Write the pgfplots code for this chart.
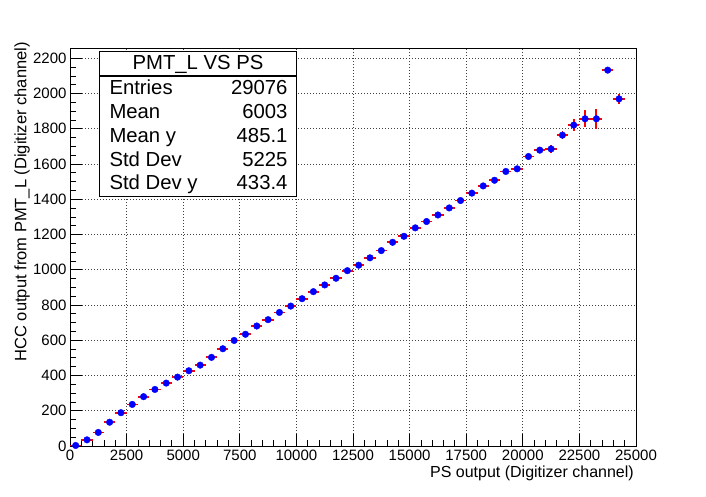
\documentclass[border=0pt]{standalone}
\usepackage{pgfplots}
\usepackage{pgfplotstable}
\pgfplotsset{compat=1.18}
\usepackage{fontspec}
\setmainfont{Liberation Sans}
\pgfplotstableread{
x ex y ey
250 250 3 2
750 250 35 2
1250 250 77 2
1750 250 135 2
2250 250 189 2
2750 250 236 2
3250 250 280 2
3750 250 321 2
4250 250 357 2
4750 250 391 2
5250 250 427 2
5750 250 459 2
6250 250 503 2
6750 250 552 2
7250 250 599 2
7750 250 634 2
8250 250 681 2
8750 250 717 2
9250 250 758 2
9750 250 794 2
10250 250 836 2
10750 250 876 2
11250 250 914 2
11750 250 952 2
12250 250 995 2
12750 250 1026 2
13250 250 1068 2
13750 250 1109 2
14250 250 1156 3
14750 250 1190 3
15250 250 1238 3
15750 250 1274 3
16250 250 1311 3
16750 250 1351 3
17250 250 1393 3
17750 250 1435 3
18250 250 1476 4
18750 250 1508 4
19250 250 1558 5
19750 250 1573 5
20250 250 1643 6
20750 250 1679 8
21250 250 1686 21
21750 250 1764 22
22250 250 1821 36
22750 250 1857 48
23250 250 1857 57
23750 250 2133 8
24250 250 1970 30
}\datatab
\begin{document}
\begin{tikzpicture}[x=1pt,y=1pt]
\path[use as bounding box] (0,0) rectangle (706,496);
\begin{axis}[
  at={(70pt,50pt)}, anchor=south west, scale only axis,
  width=566pt, height=397pt,
  xmin=0, xmax=25000, ymin=0, ymax=2253,
  xtick={0,2500,...,25000}, ytick={0,200,...,2200},
  minor x tick num=4, minor y tick num=3,
  xtick pos=left, ytick pos=left, tick align=inside,
  major tick length=12pt, minor tick length=6pt,
  grid=major,
  major grid style={black!75, dash pattern=on 1pt off 2pt, line width=0.8pt},
  axis line style={line width=1pt},
  tick style={black, line width=0.8pt},
  ticklabel style={font=\fontsize{15}{18}\selectfont},
  /pgf/number format/assume math mode=true,
  /pgf/number format/set thousands separator={},
  scaled ticks=false,
]
\addplot[only marks, mark=none,
  error bars/.cd, x dir=both, x explicit, y dir=both, y explicit,
  error mark=none, error bar style={draw=red, line width=1.8pt}]
  table[x=x, y=y, x error=ex, y error=ey]{\datatab};
\addplot[only marks, mark=*, mark size=3.3pt, draw=blue, fill=blue]
  table[x=x, y=y]{\datatab};
\end{axis}
% axis titles
\node[anchor=east, inner sep=0pt, font=\fontsize{16}{19}\selectfont] at (634,23) {PS output (Digitizer channel)};
\node[anchor=east, rotate=90, inner sep=0pt, font=\fontsize{16.5}{19}\selectfont] at (22,454) {HCC output from PMT\_L (Digitizer channel)};
% stats box
\draw[line width=1.2pt, fill=white] (99.3,299.3) rectangle (296.7,444.3);
\draw[line width=1.2pt] (99.3,420) -- (296.7,420);
\begin{scope}[every node/.style={inner sep=0pt, font=\fontsize{20.3}{24}\selectfont}]
\node[anchor=base] at (198,426) {PMT\_L VS PS};
\node[anchor=base west] at (109.3,401) {Entries};
\node[anchor=base east] at (287.7,401) {29076};
\node[anchor=base west] at (109.3,377.3) {Mean};
\node[anchor=base east] at (287.7,377.3) {6003};
\node[anchor=base west] at (109.3,353.5) {Mean y};
\node[anchor=base east] at (287.7,353.5) {485.1};
\node[anchor=base west] at (109.3,329.8) {Std Dev};
\node[anchor=base east] at (287.7,329.8) {5225};
\node[anchor=base west] at (109.3,306) {Std Dev y};
\node[anchor=base east] at (287.7,306) {433.4};
\end{scope}
\end{tikzpicture}
\end{document}
